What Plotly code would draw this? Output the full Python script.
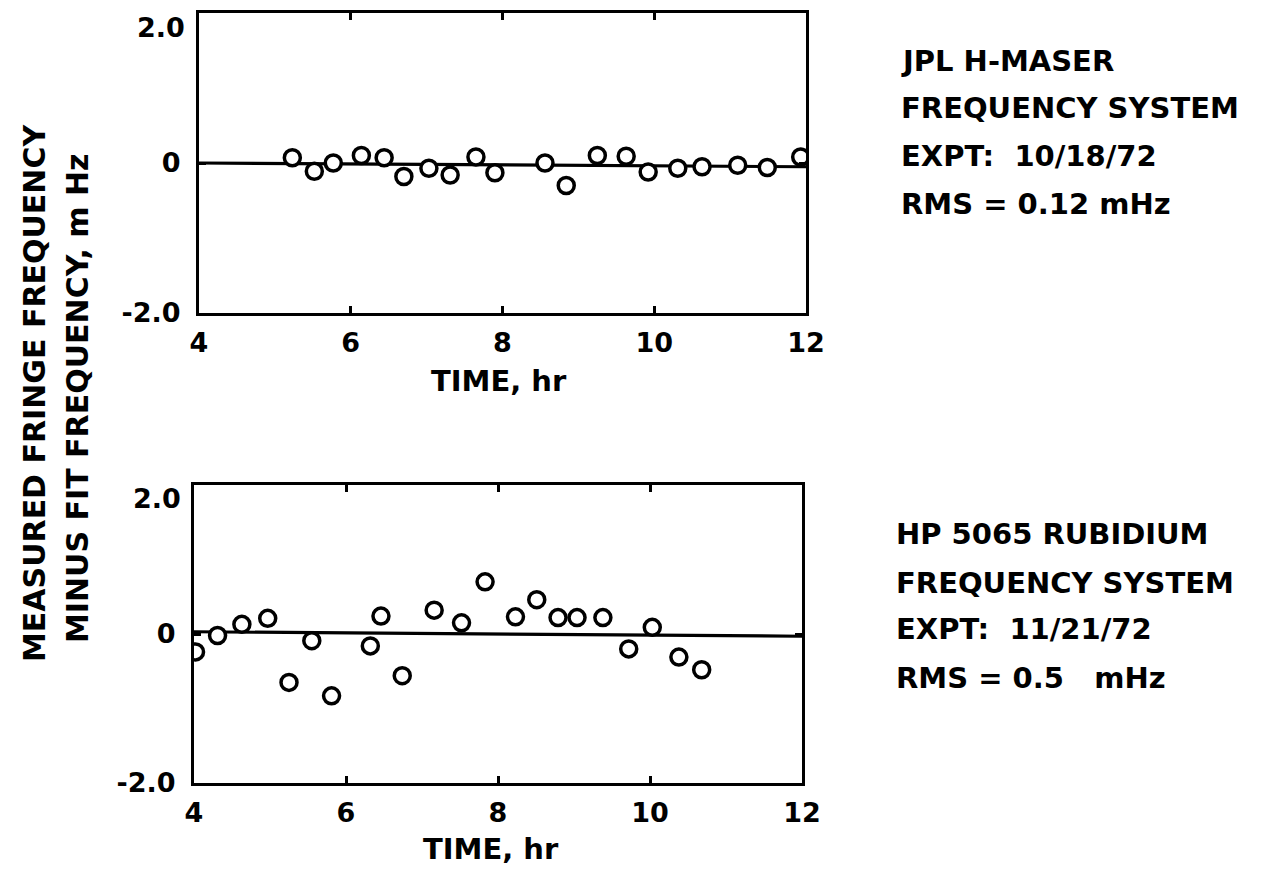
import plotly.graph_objects as go

# ---------------- data ----------------
maser_time = [5.23, 5.52, 5.77, 6.14, 6.44, 6.70, 7.03, 7.31, 7.65, 7.90,
              8.56, 8.84, 9.25, 9.63, 9.92, 10.31, 10.63, 11.10, 11.49, 11.93]
maser_resid = [0.07, -0.11, 0.00, 0.10, 0.07, -0.18, -0.07, -0.16, 0.08, -0.13,
               0.00, -0.30, 0.10, 0.09, -0.12, -0.07, -0.05, -0.03, -0.06, 0.08]
maser_fit_x = [4.0, 12.0]
maser_fit_y = [0.0, -0.05]

rb_time = [4.02, 4.31, 4.63, 4.97, 5.25, 5.55, 5.81, 6.32, 6.46, 6.74, 7.16,
           7.52, 7.83, 8.23, 8.51, 8.79, 9.04, 9.38, 9.72, 10.03, 10.38, 10.68]
rb_resid = [-0.24, -0.02, 0.13, 0.21, -0.65, -0.09, -0.83, -0.16, 0.24, -0.56, 0.32,
            0.15, 0.70, 0.23, 0.46, 0.22, 0.22, 0.22, -0.20, 0.09, -0.31, -0.48]
rb_fit_x = [4.0, 12.0]
rb_fit_y = [0.03, -0.03]

x_ticks = [4, 6, 8, 10, 12]
y_ticks = [-2.0, 0.0, 2.0]
y_ticktext = ["-2.0", "0", ""]   # the top "2.0" label is set a little below its tick
y_top_label = "2.0"

x_title = "TIME, hr"
y_title_1 = "MEASURED FRINGE FREQUENCY"
y_title_2 = "MINUS FIT FREQUENCY, m Hz"
maser_text = ["JPL H-MASER", "FREQUENCY SYSTEM", "EXPT:\u00a0 10/18/72", "RMS = 0.12 mHz"]
rb_text = ["HP 5065 RUBIDIUM", "FREQUENCY SYSTEM", "EXPT:\u00a0 11/21/72", "RMS = 0.5\u00a0\u00a0 mHz"]

# ---------------- layout helpers ----------------
W, H = 1266, 879
OX, OY = 7, 7          # page offset of the plot div
FONT = "DejaVu Sans"
FS = 27
BLACK = "#000000"


def px_x(p):
    return (p - OX) / W


def px_y(p):
    return 1 - (p - OY) / H


fig = go.Figure()

marker = dict(symbol="circle", size=16, color="white", line=dict(color=BLACK, width=3.5))

fig.add_trace(go.Scatter(x=maser_fit_x, y=maser_fit_y, mode="lines",
                         line=dict(color=BLACK, width=3.2), xaxis="x", yaxis="y",
                         showlegend=False, hoverinfo="skip"))
fig.add_trace(go.Scatter(x=maser_time, y=maser_resid, mode="markers", marker=marker,
                         xaxis="x", yaxis="y", showlegend=False))
fig.add_trace(go.Scatter(x=rb_fit_x, y=rb_fit_y, mode="lines",
                         line=dict(color=BLACK, width=3.2), xaxis="x2", yaxis="y2",
                         showlegend=False, hoverinfo="skip"))
fig.add_trace(go.Scatter(x=rb_time, y=rb_resid, mode="markers", marker=marker,
                         xaxis="x2", yaxis="y2", showlegend=False))

axis_common = dict(showline=True, linecolor=BLACK, linewidth=3, mirror="ticks",
                   ticks="inside", ticklen=7, tickwidth=2.5, tickcolor=BLACK,
                   showgrid=False, zeroline=False,
                   tickfont=dict(family=FONT, size=FS, color=BLACK, weight="bold"))

xa = dict(axis_common, range=[4, 12], tickvals=x_ticks, ticklabelstandoff=4)
ya = dict(axis_common, range=[-2, 2], tickvals=y_ticks, ticktext=y_ticktext,
          ticklabelstandoff=10)

top_dom_x = [px_x(198), px_x(805)]
top_dom_y = [px_y(312), px_y(12)]
bot_dom_x = [px_x(193), px_x(801)]
bot_dom_y = [px_y(782), px_y(484)]

fig.update_layout(
    width=W, height=H,
    margin=dict(l=0, r=0, t=0, b=0, autoexpand=False),
    paper_bgcolor="white", plot_bgcolor="white",
    xaxis=dict(xa, domain=top_dom_x, anchor="y"),
    yaxis=dict(ya, domain=top_dom_y, anchor="x"),
    xaxis2=dict(xa, domain=bot_dom_x, anchor="y2"),
    yaxis2=dict(ya, domain=bot_dom_y, anchor="x2"),
)

ann_font = dict(family=FONT, size=29, color=BLACK, weight="bold")
tick_font = dict(family=FONT, size=FS, color=BLACK, weight="bold")
ytitle_font = dict(family=FONT, size=30, color=BLACK, weight="bold")

annotations = [
    dict(text=x_title, x=px_x(498), y=px_y(380), font=ann_font),
    dict(text=x_title, x=px_x(490), y=px_y(848), font=ann_font),
    dict(text=y_title_1, x=px_x(33), y=px_y(392), textangle=-90, font=ytitle_font),
    dict(text=y_title_2, x=px_x(77), y=px_y(397), textangle=-90, font=ytitle_font),
    dict(text=y_top_label, x=px_x(186), y=px_y(26), xanchor="right", font=tick_font),
    dict(text=y_top_label, x=px_x(182), y=px_y(497), xanchor="right", font=tick_font),
]
for t, yc in zip(maser_text, [60, 107, 155, 203]):
    annotations.append(dict(text=t, x=px_x(898), y=px_y(yc), xanchor="left", font=ann_font))
for t, yc in zip(rb_text, [533, 582, 628, 677]):
    annotations.append(dict(text=t, x=px_x(893), y=px_y(yc), xanchor="left", font=ann_font))

for a in annotations:
    a.setdefault("xanchor", "center")
    fig.add_annotation(xref="paper", yref="paper", showarrow=False,
                       yanchor="middle", **a)

fig.write_html("out.html")
